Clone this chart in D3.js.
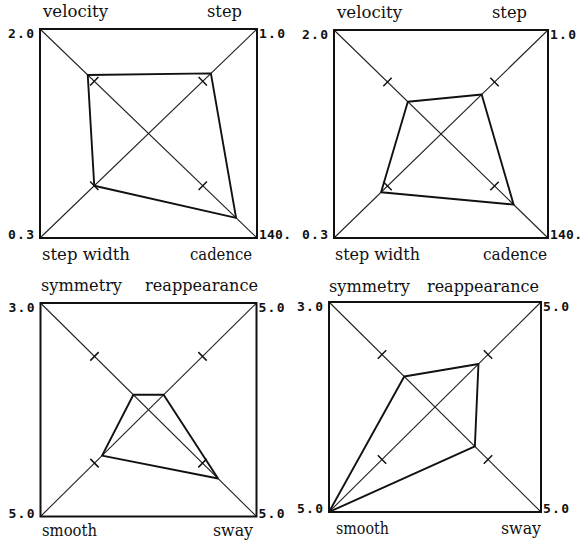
<!DOCTYPE html>
<html>
<head>
<meta charset="utf-8">
<script src="https://cdn.jsdelivr.net/npm/d3@7"></script>
<style>
  html, body { margin: 0; padding: 0; background: #fff; }
  svg { display: block; }
  .axis-name { font-family: "DejaVu Serif", "Liberation Serif", serif; font-size: 16px; fill: #111; }
  .corner-val { font-family: "DejaVu Sans Mono", "Liberation Mono", monospace; font-weight: bold; font-size: 13px; fill: #111; }
</style>
</head>
<body>
<svg id="chart" width="581" height="543"></svg>
<script>
// Gait profile: axes are ordered top-left, top-right, bottom-right, bottom-left.
const gaitAxes = ["velocity", "step", "cadence", "step width"];
const gaitMax = [2.0, 1.0, 140, 0.3];
const gaitMaxLabels = ["2.0", "1.0", "140.", "0.3"];

const postureAxes = ["symmetry", "reappearance", "sway", "smooth"];
const postureMax = [3.0, 5.0, 5.0, 5.0];
const postureMaxLabels = ["3.0", "5.0", "5.0", "5.0"];

// Measured values per subject.
const gaitA = [1.12, 0.575, 113, 0.15];
const gaitB = [0.62, 0.38, 95, 0.168];
const postureA = [0.42, 0.70, 3.22, 2.15];
const postureB = [0.87, 2.05, 1.88, 5.0];

// Reference (normal) level on every axis, as a share of the axis maximum.
const normalShare = 0.5;

const panels = [
  { axes: gaitAxes, max: gaitMax, maxLabels: gaitMaxLabels, values: gaitA,
    box: [40, 29, 257, 238],
    names: [{x: 43, y: 17, a: "start", w: 65}, {x: 242, y: 17, a: "end", w: 35},
            {x: 252, y: 260, a: "end", w: 62}, {x: 42, y: 260, a: "start", w: 88}] },
  { axes: gaitAxes, max: gaitMax, maxLabels: gaitMaxLabels, values: gaitB,
    box: [334, 30, 548, 238],
    names: [{x: 337, y: 18, a: "start", w: 65}, {x: 527, y: 18, a: "end", w: 35},
            {x: 547, y: 260, a: "end", w: 64}, {x: 335, y: 260, a: "start", w: 85}] },
  { axes: postureAxes, max: postureMax, maxLabels: postureMaxLabels, values: postureA,
    box: [40.5, 303, 256.5, 516.5],
    names: [{x: 41, y: 291, a: "start", w: 81}, {x: 258, y: 291, a: "end", w: 113},
            {x: 253, y: 536, a: "end", w: 40}, {x: 42, y: 536, a: "start", w: 55}] },
  { axes: postureAxes, max: postureMax, maxLabels: postureMaxLabels, values: postureB,
    box: [329, 302, 541, 512],
    names: [{x: 329, y: 292, a: "start", w: 81}, {x: 539, y: 292, a: "end", w: 112},
            {x: 541, y: 534, a: "end", w: 40}, {x: 336, y: 534, a: "start", w: 53}] }
];

const svg = d3.select("#chart");

panels.forEach(p => {
  const [x0, y0, x1, y1] = p.box;
  const cx = (x0 + x1) / 2, cy = (y0 + y1) / 2;
  const corners = [[x0, y0], [x1, y0], [x1, y1], [x0, y1]];
  const g = svg.append("g");

  // One pair of linear scales per axis: value 0 at the centre, max at the corner.
  const scales = corners.map((c, i) => ({
    x: d3.scaleLinear().domain([0, p.max[i]]).range([cx, c[0]]),
    y: d3.scaleLinear().domain([0, p.max[i]]).range([cy, c[1]])
  }));

  // Diagonals
  g.append("line").attr("x1", x0).attr("y1", y0).attr("x2", x1).attr("y2", y1)
    .attr("stroke", "#222").attr("stroke-width", 1.1);
  g.append("line").attr("x1", x1).attr("y1", y0).attr("x2", x0).attr("y2", y1)
    .attr("stroke", "#222").attr("stroke-width", 1.1);

  // Frame
  g.append("rect").attr("x", x0).attr("y", y0).attr("width", x1 - x0).attr("height", y1 - y0)
    .attr("fill", "none").attr("stroke", "#111").attr("stroke-width", 2);

  // Normal-level ticks across each half diagonal
  corners.forEach((c, i) => {
    const v = p.max[i] * normalShare;
    const tx = scales[i].x(v), ty = scales[i].y(v);
    const dx = c[0] - cx, dy = c[1] - cy, len = Math.hypot(dx, dy);
    const nx = -dy / len * 6, ny = dx / len * 6;
    g.append("line").attr("x1", tx - nx).attr("y1", ty - ny).attr("x2", tx + nx).attr("y2", ty + ny)
      .attr("stroke", "#111").attr("stroke-width", 1.5);
  });

  // Profile polygon
  const pts = p.values.map((v, i) => [scales[i].x(v), scales[i].y(v)]);
  g.append("path")
    .attr("d", d3.line()(pts) + "Z")
    .attr("fill", "none").attr("stroke", "#111").attr("stroke-width", 1.9)
    .attr("stroke-linejoin", "round");

  // Axis names
  p.axes.forEach((name, i) => {
    const n = p.names[i];
    g.append("text").attr("class", "axis-name")
      .attr("x", n.x).attr("y", n.y).attr("text-anchor", n.a)
      .attr("textLength", n.w).attr("lengthAdjust", "spacingAndGlyphs")
      .text(name);
  });

  // Axis maxima at the corners
  p.maxLabels.forEach((lab, i) => {
    const left = i === 0 || i === 3;
    const top = i === 0 || i === 1;
    const w = lab.length === 4 ? 32 : 26;
    g.append("text").attr("class", "corner-val")
      .attr("x", left ? x0 - 6 : x1 + 2)
      .attr("y", top ? y0 + 9 : y1 + 1)
      .attr("text-anchor", left ? "end" : "start")
      .attr("textLength", w).attr("lengthAdjust", "spacing")
      .text(lab);
  });
});
</script>
</body>
</html>
